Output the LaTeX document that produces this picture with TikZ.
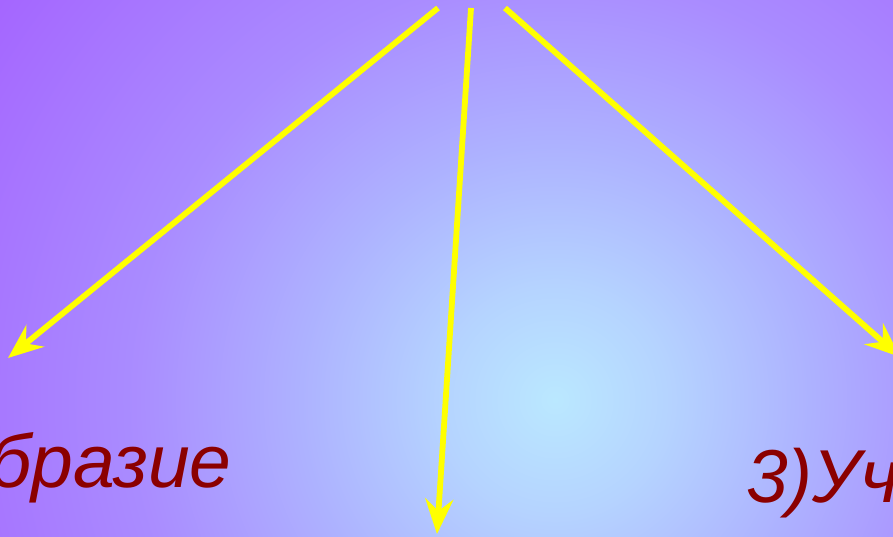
\documentclass[tikz,border=0pt]{standalone}
\usepackage{fontspec}
\setmainfont{Liberation Sans}
\usepackage{xcolor}
\usetikzlibrary{arrows.meta}

\definecolor{arrowyellow}{RGB}{255,255,0}
\definecolor{textred}{RGB}{139,0,0}
\pgfdeclareradialshading{slidebg}{\pgfpoint{0bp}{0bp}}{%
  rgb(0bp)=(0.73,0.91,1); rgb(4bp)=(0.71,0.83,1); rgb(9bp)=(0.68,0.70,1);
  rgb(15bp)=(0.665,0.55,1); rgb(25bp)=(0.645,0.39,1); rgb(50bp)=(0.645,0.39,1)}

\tikzset{
  pointer/.style={arrowyellow, line width=5.8pt, -{Stealth[length=35pt, width=28pt, inset=12pt]}},
  caption/.style={font=\itshape\fontsize{75}{80}\selectfont, text=textred, inner sep=0pt, anchor=base west}
}

\begin{document}
\begin{tikzpicture}[x=1pt, y=-1pt]

\useasboundingbox (0,0) rectangle (893,536);
\clip (0,0) rectangle (893,536);
\shade[shading=slidebg] (555,400) circle (700pt);

% arrow ends
\coordinate (top1) at (438,8);
\coordinate (top2) at (471,8);
\coordinate (top3) at (505,8);
\coordinate (end1) at (8,358);
\coordinate (end2) at (437,534);
\coordinate (end3) at (900,357);

\draw[pointer] (top1) -- (end1);
\draw[pointer] (top2) -- (end2);
\draw[pointer] (top3) -- (end3);

\node[caption] (left) at (-11,487) {бразие};
\node[caption] (right) at (746,502) {3)Уч};

\end{tikzpicture}
\end{document}
